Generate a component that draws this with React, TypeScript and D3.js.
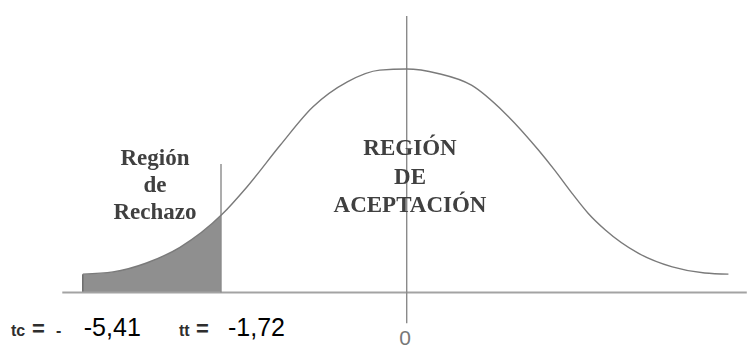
import React from "react";
import * as d3 from "d3";

// ---- data ----
const curveT = [-3.0, -2.72, -2.41, -2.1, -1.71, -1.48, -1.17, -0.87, -0.55, -0.25, 0, 0.29, 0.6, 0.91, 1.22, 1.37, 1.53, 1.68, 1.84, 2.14, 2.46, 2.76, 2.98];
const curveDensity = [0.033, 0.037, 0.053, 0.081, 0.14, 0.189, 0.264, 0.332, 0.377, 0.398, 0.4, 0.392, 0.371, 0.321, 0.255, 0.219, 0.178, 0.142, 0.112, 0.071, 0.046, 0.035, 0.033];
const tCritical = -1.72;
const axisExtent = [-3.19, 3.15];
const centerLineExtent = [-0.055, 0.495];
const cutLineTop = 0.23;
const rejectionLines = ["Región", "de", "Rechazo"];
const acceptanceLines = ["REGIÓN", "DE", "ACEPTACIÓN"];
const tcPrefix = ["tc", "=", "-"];
const ttPrefix = ["tt", "="];
const tickLabels = ["-5,41", "-1,72", "0"];

const W = 747;
const H = 349;

export default function App() {
  const x = d3.scaleLinear().domain([-3, 3]).range([82.8, 730.6]);
  const y = d3.scaleLinear().domain([0, 0.4]).range([292.6, 69]);
  const pts: [number, number][] = curveT.map((t, i) => [t, curveDensity[i]]);

  const line = d3
    .line<[number, number]>()
    .x((d) => x(d[0]))
    .y((d) => y(d[1]))
    .curve(d3.curveMonotoneX);
  const area = d3
    .area<[number, number]>()
    .x((d) => x(d[0]))
    .y0(y(0))
    .y1((d) => y(d[1]))
    .curve(d3.curveMonotoneX);

  const serif = "'Liberation Serif', 'Times New Roman', serif";
  const sans = "'Liberation Sans', Arial, sans-serif";
  const axisY = y(0);
  const labelBase = 335.7;

  return (
    <svg
      width={W}
      height={H}
      viewBox={`0 0 ${W} ${H}`}
      style={{ position: "absolute", left: 0, top: 0, background: "#fff" }}
    >
      <defs>
        <clipPath id="rej">
          <rect x={x(-3)} y={0} width={x(tCritical) - x(-3)} height={axisY} />
        </clipPath>
        <filter id="soft" x="-5%" y="-5%" width="110%" height="110%">
          <feGaussianBlur stdDeviation="0.45" />
        </filter>
      </defs>

      {/* shaded rejection area */}
      <path d={area(pts) || ""} fill="#8f8f8f" clipPath="url(#rej)" />
      <line x1={x(-3)} x2={x(-3)} y1={axisY} y2={y(curveDensity[0])} stroke="#6f6f6f" strokeWidth={1.6} />

      {/* baseline axis */}
      <line x1={x(axisExtent[0])} x2={x(axisExtent[1])} y1={axisY} y2={axisY} stroke="#a3a3a3" strokeWidth={2} />

      {/* center line */}
      <line x1={x(0)} x2={x(0)} y1={y(centerLineExtent[0])} y2={y(centerLineExtent[1])} stroke="#8a8a8a" strokeWidth={1.4} />

      {/* critical cut line */}
      <line x1={x(tCritical)} x2={x(tCritical)} y1={axisY} y2={y(cutLineTop)} stroke="#8a8a8a" strokeWidth={1.4} />

      {/* density curve */}
      <path d={line(pts) || ""} fill="none" stroke="#7a7a7a" strokeWidth={1.4} />

      {/* region labels */}
      <g filter="url(#soft)" fontFamily={serif} fontWeight="bold" fontSize={23} fill="#404040" textAnchor="middle">
        {rejectionLines.map((s, i) => (
          <text key={s} x={155} y={165 + i * 27}>
            {s}
          </text>
        ))}
        {acceptanceLines.map((s, i) => (
          <text key={s} x={410} y={155 + i * 28.5}>
            {s}
          </text>
        ))}
      </g>

      {/* bottom labels */}
      <g fontFamily={sans} fontWeight="bold" fill="#2e2e2e">
        <text x={11} y={labelBase} fontSize={16}>{tcPrefix[0]}</text>
        <text x={32} y={labelBase} fontSize={22}>{tcPrefix[1]}</text>
        <text x={56} y={labelBase} fontSize={16}>{tcPrefix[2]}</text>
        <text x={179} y={labelBase} fontSize={16}>{ttPrefix[0]}</text>
        <text x={196} y={labelBase} fontSize={22}>{ttPrefix[1]}</text>
      </g>
      <g fontFamily={sans}>
        <text x={x(0) - 1.5} y={345} fontSize={21} fill="#777" textAnchor="middle">
          {tickLabels[2]}
        </text>
        <text x={x(-3) + 1} y={labelBase} fontSize={25} fill="#000">
          {tickLabels[0]}
        </text>
        <text x={228} y={labelBase} fontSize={25} fill="#000">
          {tickLabels[1]}
        </text>
      </g>
    </svg>
  );
}
